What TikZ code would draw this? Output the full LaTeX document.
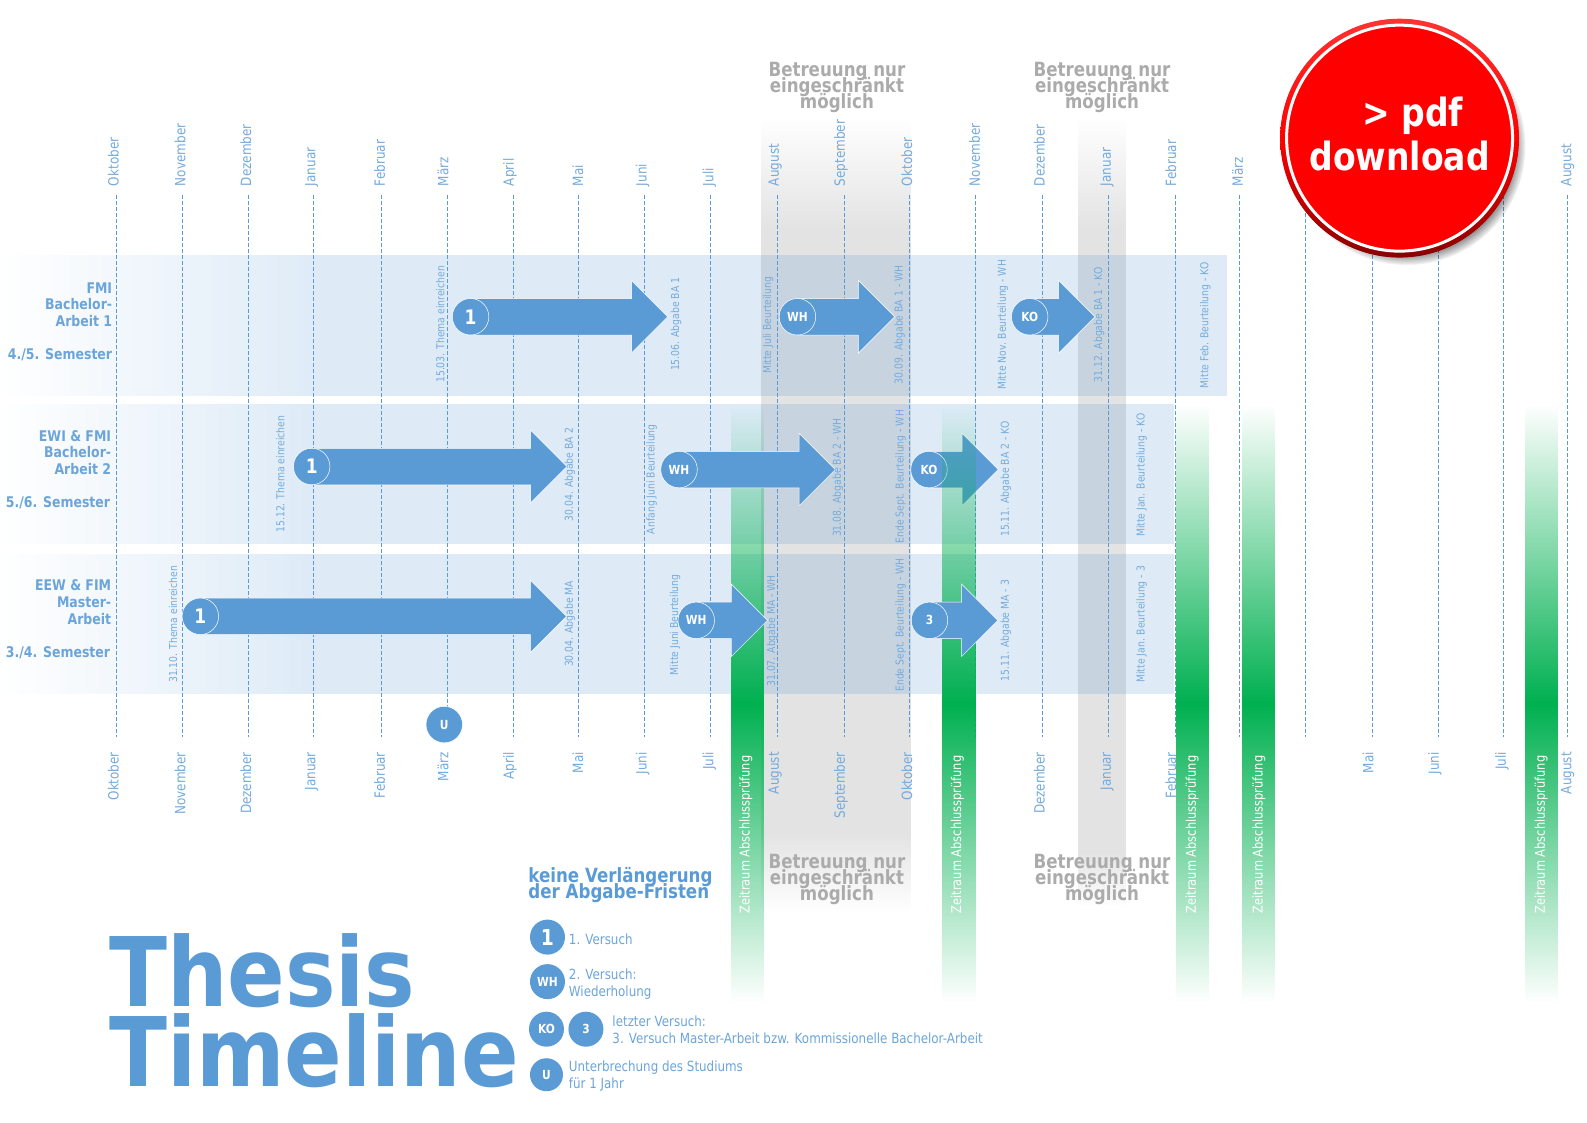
\documentclass[tikz,border=0pt]{standalone}
\usepackage{fontspec}
\setmainfont{DejaVu Sans}[FakeStretch=0.85]
\newfontfamily\titlefont{DejaVu Sans}[FakeStretch=0.885]
\usetikzlibrary{positioning,shapes.arrows,fadings,shadows}
\definecolor{themeblue}{HTML}{5B9BD5}
\definecolor{examgreen}{HTML}{00B050}
\definecolor{darkred}{HTML}{880000}
\newcommand{\fsize}[1]{\fontsize{#1}{#1}\selectfont}
\newcommand{\tightlines}{\lineskiplimit=-30pt\relax}
\pgfdeclarehorizontalshading{bandshade}{100bp}{color(0bp)=(transparent!100);color(25bp)=(transparent!100);color(38bp)=(transparent!0);color(75bp)=(transparent!0);color(100bp)=(transparent!0)}
\pgfdeclareverticalshading{grayshadea}{100bp}{color(0bp)=(transparent!100);color(25bp)=(transparent!100);color(30bp)=(transparent!0);color(68bp)=(transparent!0);color(75bp)=(transparent!100);color(100bp)=(transparent!100)}
\pgfdeclareverticalshading{grayshadeb}{100bp}{color(0bp)=(transparent!100);color(25bp)=(transparent!100);color(28.5bp)=(transparent!0);color(68bp)=(transparent!0);color(75bp)=(transparent!100);color(100bp)=(transparent!100)}
\tikzfading[name=fadecolumn,top color=transparent!100,bottom color=transparent!100,middle color=transparent!0]
\tikzfading[name=fadeband,shading=bandshade]
\tikzfading[name=fadegraya,shading=grayshadea]
\tikzfading[name=fadegrayb,shading=grayshadeb]
\begin{document}
\begin{tikzpicture}[x=1.012pt,y=-1.012pt,
						monthtop/.style={rotate=90,anchor=west,inner sep=0pt,text=themeblue!85,font=\fsize{14.1}},
						monthlow/.style={rotate=90,anchor=east,inner sep=0pt,text=themeblue!85,font=\fsize{14.1}},
						datelabel/.style={rotate=90,inner sep=0pt,text=themeblue!85,font=\fsize{10.9}},
						examlabel/.style={rotate=90,inner sep=0pt,text=white,font=\fsize{13.4}},
						graylabel/.style={align=center,inner sep=0pt,text=black!33,font=\bfseries\fontsize{19.6}{16}\selectfont\tightlines},
						rowlabel/.style={align=right,anchor=east,inner sep=0pt,text=themeblue!90,font=\bfseries\fontsize{14.7}{16.6}\selectfont},
						legendtext/.style={align=left,anchor=west,inner sep=0pt,text=themeblue!90,font=\fontsize{14}{17}\selectfont},
						titletext/.style={anchor=base west,inner sep=0pt,text=themeblue,font=\titlefont\bfseries\fsize{96}},
						monthline/.style={themeblue,dashed,dash pattern=on 3.5pt off 2.5pt,line width=.8pt},
						pointer/.style={single arrow,fill=themeblue,draw=white,line width=.5pt,inner xsep=0pt,inner ysep=18pt,anchor=tail,
							single arrow head extend=18pt,single arrow tip angle=90},
						dot/.style={circle,fill=themeblue,draw=white,line width=.5pt,inner sep=0pt,minimum size=36.5pt,text=white,font=\bfseries\fsize{12.5}},
						onedot/.style={dot,font=\bfseries\fsize{20}},
						legenddot/.style={circle,fill=themeblue,inner sep=0pt,minimum size=35pt,text=white,font=\bfseries\fsize{12.5}}]
		\useasboundingbox (0,0) rectangle (1568.2,1109.7);

		% gray columns
		\fill[black!11,path fading=fadegraya] (752,117) rectangle (900,900);
		\fill[black!11,path fading=fadegrayb] (1065,117) rectangle (1113,895);

		% bands
		\fill[themeblue,fill opacity=.2,path fading=fadeband] (0,252) rectangle (1215,391);
		\fill[themeblue,fill opacity=.2,path fading=fadeband] (0,399) rectangle (1163,538);
		\fill[themeblue,fill opacity=.2,path fading=fadeband] (0,547) rectangle (1163,686);

		% month lines
		\coordinate (t1) at (115,193);	\coordinate (b1) at (115,728);	\draw[monthline] (t1) -- (b1);
		\coordinate (t2) at (180,193);	\coordinate (b2) at (180,728);	\draw[monthline] (t2) -- (b2);
		\coordinate (t3) at (245,193);	\coordinate (b3) at (245,728);	\draw[monthline] (t3) -- (b3);
		\coordinate (t4) at (310,193);	\coordinate (b4) at (310,728);	\draw[monthline] (t4) -- (b4);
		\coordinate (t5) at (377,193);	\coordinate (b5) at (377,728);	\draw[monthline] (t5) -- (b5);
		\coordinate (t6) at (442,193);	\coordinate (b6) at (442,728);	\draw[monthline] (t6) -- (b6);
		\coordinate (t7) at (507,193);	\coordinate (b7) at (507,728);	\draw[monthline] (t7) -- (b7);
		\coordinate (t8) at (572,193);	\coordinate (b8) at (572,728);	\draw[monthline] (t8) -- (b8);
		\coordinate (t9) at (637,193);	\coordinate (b9) at (637,728);	\draw[monthline] (t9) -- (b9);
		\coordinate (t10) at (702,193);	\coordinate (b10) at (702,728);	\draw[monthline] (t10) -- (b10);
		\coordinate (t11) at (768,193);	\coordinate (b11) at (768,728);	\draw[monthline] (t11) -- (b11);
		\coordinate (t12) at (834,193);	\coordinate (b12) at (834,728);	\draw[monthline] (t12) -- (b12);
		\coordinate (t13) at (899,193);	\coordinate (b13) at (899,728);	\draw[monthline] (t13) -- (b13);
		\coordinate (t14) at (964,193);	\coordinate (b14) at (964,728);	\draw[monthline] (t14) -- (b14);
		\coordinate (t15) at (1030,193);	\coordinate (b15) at (1030,728);	\draw[monthline] (t15) -- (b15);
		\coordinate (t16) at (1095,193);	\coordinate (b16) at (1095,728);	\draw[monthline] (t16) -- (b16);
		\coordinate (t17) at (1161,193);	\coordinate (b17) at (1161,728);	\draw[monthline] (t17) -- (b17);
		\coordinate (t18) at (1225,193);	\coordinate (b18) at (1225,728);	\draw[monthline] (t18) -- (b18);
		\coordinate (t19) at (1290,193);	\coordinate (b19) at (1290,728);	\draw[monthline] (t19) -- (b19);
		\coordinate (t20) at (1356,193);	\coordinate (b20) at (1356,728);	\draw[monthline] (t20) -- (b20);
		\coordinate (t21) at (1421,193);	\coordinate (b21) at (1421,728);	\draw[monthline] (t21) -- (b21);
		\coordinate (t22) at (1486,193);	\coordinate (b22) at (1486,728);	\draw[monthline] (t22) -- (b22);
		\coordinate (t23) at (1549,193);	\coordinate (b23) at (1549,728);	\draw[monthline] (t23) -- (b23);

		% this arrow lies under the green column
		\node[pointer,minimum height=69pt]	(a6)	at (918,464)	{};
		\node[dot]							(d6)	at (a6.tail)	{KO};

		% green columns
		\fill[examgreen,path fading=fadecolumn] (722,400) rectangle (755,990);
		\fill[examgreen,path fading=fadecolumn] (931,400) rectangle (964,990);
		\fill[examgreen,path fading=fadecolumn] (1162,400) rectangle (1195,990);
		\fill[examgreen,path fading=fadecolumn] (1227,400) rectangle (1260,990);
		\fill[examgreen,path fading=fadecolumn] (1507,400) rectangle (1540,990);
		\node[examlabel]	(z1)	at (737,824.5)	{Zeitraum Abschlussprüfung};
		\node[examlabel]	(z2)	at (946,824.5)	{Zeitraum Abschlussprüfung};
		\node[examlabel]	(z3)	at (1178,824.5)	{Zeitraum Abschlussprüfung};
		\node[examlabel]	(z4)	at (1244,824.5)	{Zeitraum Abschlussprüfung};
		\node[examlabel]	(z5)	at (1523,824.5)	{Zeitraum Abschlussprüfung};

		% arrows
		\node[pointer,minimum height=197pt]	(a1)	at (465,313)	{};
		\node[onedot]						(d1)	at (a1.tail)	{1};
		\node[pointer,minimum height=97pt]	(a2)	at (788,313)	{};
		\node[dot]							(d2)	at (a2.tail)	{WH};
		\node[pointer,minimum height=65pt]	(a3)	at (1017.5,313)	{};
		\node[dot]							(d3)	at (a3.tail)	{KO};
		\node[pointer,minimum height=255pt]	(a4)	at (308,461)	{};
		\node[onedot]						(d4)	at (a4.tail)	{1};
		\node[pointer,minimum height=156pt]	(a5)	at (671,464)	{};
		\node[dot]							(d5)	at (a5.tail)	{WH};
		\node[pointer,minimum height=366pt]	(a7)	at (198,609)	{};
		\node[onedot]						(d7)	at (a7.tail)	{1};
		\node[pointer,minimum height=71pt]	(a8)	at (688,613)	{};
		\node[dot]							(d8)	at (a8.tail)	{WH};
		\node[pointer,minimum height=68pt]	(a9)	at (918.5,613)	{};
		\node[dot]							(d9)	at (a9.tail)	{3};
		\node[dot]							(u0)	at (439,716)	{U};

		% row labels
		\node[rowlabel]	(r1)	at (111,301)	{FMI\\Bachelor-\\Arbeit 1};
		\node[rowlabel]	(s1)	at (111,351)	{4./5. Semester};
		\node[rowlabel]	(r2)	at (110,447)	{EWI \& FMI\\Bachelor-\\Arbeit 2};
		\node[rowlabel]	(s2)	at (109,497)	{5./6. Semester};
		\node[rowlabel]	(r3)	at (110,595)	{EEW \& FIM\\Master-\\Arbeit};
		\node[rowlabel]	(s3)	at (109,645)	{3./4. Semester};

		% dates, first row
		\node[datelabel]	(l1)	at (435,320.5)	{15.03. Thema einreichen};
		\node[datelabel]	(l2)	at (668,320.5)	{15.06. Abgabe BA 1};
		\node[datelabel]	(l3)	at (759,321.5)	{Mitte Juli Beurteilung};
		\node[datelabel]	(l4)	at (889,321)	{30.09. Abgabe BA 1 - WH};
		\node[datelabel]	(l5)	at (991,321)	{Mitte Nov. Beurteilung - WH};
		\node[datelabel]	(l6)	at (1086,321)	{31.12. Abgabe BA 1 - KO};
		\node[datelabel]	(l7)	at (1191,321.5)	{Mitte Feb. Beurteilung - KO};
		% dates, second row
		\node[datelabel]	(l8)	at (277,468.5)	{15.12. Thema einreichen};
		\node[datelabel]	(l9)	at (563,469)	{30.04. Abgabe BA 2};
		\node[datelabel]	(l10)	at (644,473.5)	{Anfang Juni Beurteilung};
		\node[datelabel]	(l11)	at (828,472)	{31.08. Abgabe BA 2 - WH};
		\node[datelabel]	(l12)	at (890,471)	{Ende Sept. Beurteilung - WH};
		\node[datelabel]	(l13)	at (994,473.5)	{15.11. Abgabe BA 2 - KO};
		\node[datelabel]	(l14)	at (1128,469.5)	{Mitte Jan. Beurteilung - KO};
		% dates, third row
		\node[datelabel]	(l15)	at (171,617)	{31.10. Thema einreichen};
		\node[datelabel]	(l16)	at (563,616.5)	{30.04. Abgabe MA};
		\node[datelabel]	(l17)	at (667,617.5)	{Mitte Juni Beurteilung};
		\node[datelabel]	(l18)	at (763,623.5)	{31.07. Abgabe MA - WH};
		\node[datelabel]	(l19)	at (890,617.5)	{Ende Sept. Beurteilung - WH};
		\node[datelabel]	(l20)	at (994,623)	{15.11. Abgabe MA - 3};
		\node[datelabel]	(l21)	at (1128,617)	{Mitte Jan. Beurteilung - 3};

		% months above
		\node[monthtop]	(m1)	at (112,184)	{Oktober};
		\node[monthtop]	(m2)	at (178,184)	{November};
		\node[monthtop]	(m3)	at (243,184)	{Dezember};
		\node[monthtop]	(m4)	at (308,184)	{Januar};
		\node[monthtop]	(m5)	at (375,184)	{Februar};
		\node[monthtop]	(m6)	at (438,184)	{März};
		\node[monthtop]	(m7)	at (504,184)	{April};
		\node[monthtop]	(m8)	at (571,184)	{Mai};
		\node[monthtop]	(m9)	at (635,184)	{Juni};
		\node[monthtop]	(m10)	at (701,184)	{Juli};
		\node[monthtop]	(m11)	at (766,184)	{August};
		\node[monthtop]	(m12)	at (831,184)	{September};
		\node[monthtop]	(m13)	at (896,184)	{Oktober};
		\node[monthtop]	(m14)	at (963,184)	{November};
		\node[monthtop]	(m15)	at (1027,184)	{Dezember};
		\node[monthtop]	(m16)	at (1094,184)	{Januar};
		\node[monthtop]	(m17)	at (1157,184)	{Februar};
		\node[monthtop]	(m18)	at (1223,184)	{März};
		\node[monthtop]	(m23)	at (1549,184)	{August};

		% months below
		\node[monthlow]	(n1)	at (112,743)	{Oktober};
		\node[monthlow]	(n2)	at (178,743)	{November};
		\node[monthlow]	(n3)	at (243,743)	{Dezember};
		\node[monthlow]	(n4)	at (308,743)	{Januar};
		\node[monthlow]	(n5)	at (375,743)	{Februar};
		\node[monthlow]	(n6)	at (438,743)	{März};
		\node[monthlow]	(n7)	at (504,743)	{April};
		\node[monthlow]	(n8)	at (571,743)	{Mai};
		\node[monthlow]	(n9)	at (635,743)	{Juni};
		\node[monthlow]	(n10)	at (701,743)	{Juli};
		\node[monthlow]	(n11)	at (766,743)	{August};
		\node[monthlow]	(n12)	at (831,743)	{September};
		\node[monthlow]	(n13)	at (896,743)	{Oktober};
		\node[monthlow]	(n15)	at (1027,743)	{Dezember};
		\node[monthlow]	(n16)	at (1094,743)	{Januar};
		\node[monthlow]	(n17)	at (1157,743)	{Februar};
		\node[monthlow]	(n20)	at (1352,743)	{Mai};
		\node[monthlow]	(n21)	at (1418,743)	{Juni};
		\node[monthlow]	(n22)	at (1484,743)	{Juli};
		\node[monthlow]	(n23)	at (1549,743)	{August};

		% supervision notes
		\node[graylabel]	(g1)	at (827,86)		{Betreuung nur\\eingeschränkt\\möglich};
		\node[graylabel]	(g2)	at (1089,86)	{Betreuung nur\\eingeschränkt\\möglich};
		\node[graylabel]	(g3)	at (827,869)	{Betreuung nur\\eingeschränkt\\möglich};
		\node[graylabel]	(g4)	at (1089,869)	{Betreuung nur\\eingeschränkt\\möglich};

		% title and legend
		\node[titletext]	(title1)	at (107.7,995)	{Thesis};
		\node[titletext]	(title2)	at (107.7,1074)	{Timeline};
		\node[anchor=west,align=left,inner sep=0pt,text=themeblue,font=\bfseries\fontsize{19.6}{16}\selectfont\tightlines] (head) at (522,875) {keine Verlängerung\\der Abgabe-Fristen};
		\node[legenddot,font=\bfseries\fsize{22}]	(k1)	at (541,926)	{1};
		\node[legenddot]	(k2)	at (541,970)	{WH};
		\node[legenddot]	(k3)	at (540,1017)	{KO};
		\node[legenddot]	(k4)	at (579,1017)	{3};
		\node[legenddot,minimum size=33pt]	(k5)	at (540,1062)	{U};
		\node[legendtext]	(e1)	at (562,928)	{1. Versuch};
		\node[legendtext]	(e2)	at (562,972.5)	{2. Versuch:\\Wiederholung};
		\node[legendtext]	(e3)	at (605,1017.5)	{letzter Versuch:\\3. Versuch Master-Arbeit bzw. Kommissionelle Bachelor-Arbeit};
		\node[legendtext]	(e4)	at (562,1063)	{Unterbrechung des Studiums\\für 1 Jahr};

		% download button
		\node[circle,minimum size=238pt,inner sep=0pt,fill=red,circular drop shadow={shadow xshift=7pt,shadow yshift=-8pt,shadow scale=1,opacity=.7,fill=black}] (btn) at (1383,136.5) {};
		\shade[shading angle=135,top color=red!80!white,bottom color=darkred,middle color=red] (btn.center) circle (118);
		\node[circle,minimum size=226pt,inner sep=0pt,fill=red,draw=white,line width=3pt] (disc) at (btn.center) {};
		\node[anchor=base,inner sep=0pt,text=white,font=\bfseries\fsize{38.9}] (pdf) at (1396,125) {> pdf};
		\node[anchor=base,inner sep=0pt,text=white,font=\bfseries\fsize{38.9}] (dl) at (1383,168) {download};
	\end{tikzpicture}
\end{document}
